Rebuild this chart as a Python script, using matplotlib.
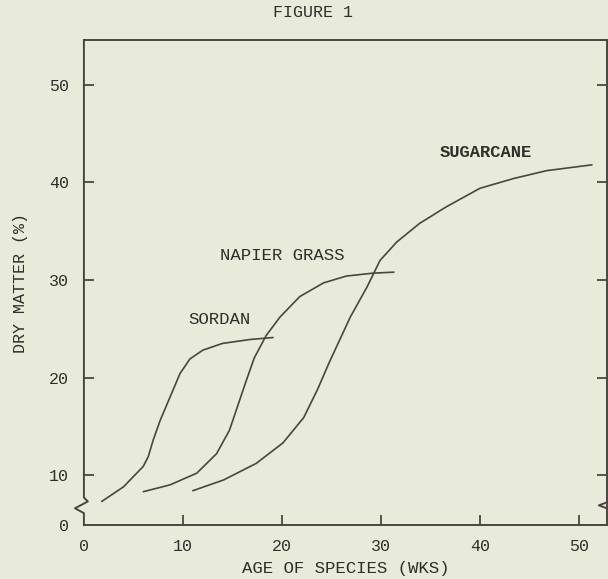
"""plot.py - dry matter vs age of species (Figure 1)."""

import matplotlib.pyplot as plt

# curves (y below 10 sits in the broken part of the axis)
sordan_x = [1.8, 4.0, 6.0, 6.5, 7.0, 7.7, 8.7, 9.7, 10.7, 12.0, 14.0, 16.8, 19.1]
sordan_y = [7.3, 8.8, 10.9, 11.9, 13.6, 15.6, 18.0, 20.4, 21.9, 22.8, 23.5, 23.9, 24.1]

napier_x = [6.0, 8.7, 11.4, 13.4, 14.7, 15.4, 16.4, 17.2, 18.4, 19.8, 21.8, 24.2,
            26.5, 29.2, 31.3]
napier_y = [8.3, 9.0, 10.2, 12.2, 14.6, 16.7, 19.7, 22.0, 24.3, 26.2, 28.3, 29.7,
            30.4, 30.7, 30.8]

sugar_x = [11.0, 14.1, 17.4, 20.1, 22.2, 23.6, 24.8, 26.9, 28.6, 29.9, 31.6, 33.9,
           36.6, 40.0, 43.4, 46.7, 51.3]
sugar_y = [8.4, 9.5, 11.2, 13.3, 15.9, 18.8, 21.6, 26.2, 29.3, 32.0, 33.9, 35.8,
           37.5, 39.4, 40.4, 41.2, 41.8]

x_ticks = [10, 20, 30, 40, 50]
x_labels = ["0", "10", "20", "30", "40", "50"]
y_ticks = [10, 20, 30, 40, 50]
y_labels = ["0", "10", "20", "30", "40", "50"]

BG = "#e8ebd9"
INK = "#4a4541"
TXT = "#302e2b"
FONT = "Liberation Mono"

Y0 = 4.87  # where the "0" of the broken axis sits
XMAX = 52.8
YMAX = 54.6

fig = plt.figure(figsize=(6.08, 5.79), dpi=100, facecolor=BG)
ax = fig.add_axes([0.138, 0.093, 0.860, 0.838], facecolor=BG)

for xs, ys in [(sordan_x, sordan_y), (napier_x, napier_y), (sugar_x, sugar_y)]:
    ax.plot(xs, ys, color=INK, lw=1.2, solid_capstyle="round", solid_joinstyle="round")

ax.set_xlim(0, XMAX)
ax.set_ylim(Y0, YMAX)

ax.set_xticks([0] + x_ticks, x_labels)
ax.set_yticks([Y0] + y_ticks, y_labels)
ax.tick_params(axis="both", direction="in", length=7, width=1.3, color=INK,
               labelcolor=TXT, labelsize=12)
ax.tick_params(axis="x", pad=10)
ax.tick_params(axis="y", pad=11, right=True)
# no tick marks at the origin
ax.xaxis.get_major_ticks()[0].tick1line.set_visible(False)
ax.yaxis.get_major_ticks()[0].tick1line.set_visible(False)
ax.yaxis.get_major_ticks()[0].tick2line.set_visible(False)
for lab in ax.get_xticklabels() + ax.get_yticklabels():
    lab.set_family(FONT)

for side in ["top", "bottom", "right"]:
    ax.spines[side].set_color(INK)
    ax.spines[side].set_linewidth(1.4)
ax.spines["left"].set_visible(False)

# hand drawn left spine with the axis break
ax.plot([0, 0, 0.4, -0.9, 0, 0], [YMAX, 7.7, 7.3, 6.6, 6.1, Y0],
        color=INK, lw=1.4, clip_on=False)
# break mark on the right side
ax.plot([XMAX, XMAX - 0.8, XMAX], [7.2, 6.9, 6.6], color=INK, lw=1.4, clip_on=False)

ax.text(13.7, 25.9, "SORDAN", ha="center", va="center", fontsize=12.5,
        family=FONT, color=TXT)
ax.text(20.0, 32.5, "NAPIER GRASS", ha="center", va="center", fontsize=12.5,
        family=FONT, color=TXT)
ax.text(40.6, 43.1, "SUGARCANE", ha="center", va="center", fontsize=12.3,
        family=FONT, color=TXT, weight="bold")

ax.set_xlabel("AGE OF SPECIES (WKS)", family=FONT, fontsize=12.5, color=TXT, labelpad=5)
ax.set_ylabel("DRY MATTER (%)", family=FONT, fontsize=12, color=TXT, labelpad=15)
fig.text(0.515, 0.979, "FIGURE 1", ha="center", va="center", family=FONT,
         fontsize=12, color=TXT)

fig.savefig("out.png", dpi=100, facecolor=BG)
